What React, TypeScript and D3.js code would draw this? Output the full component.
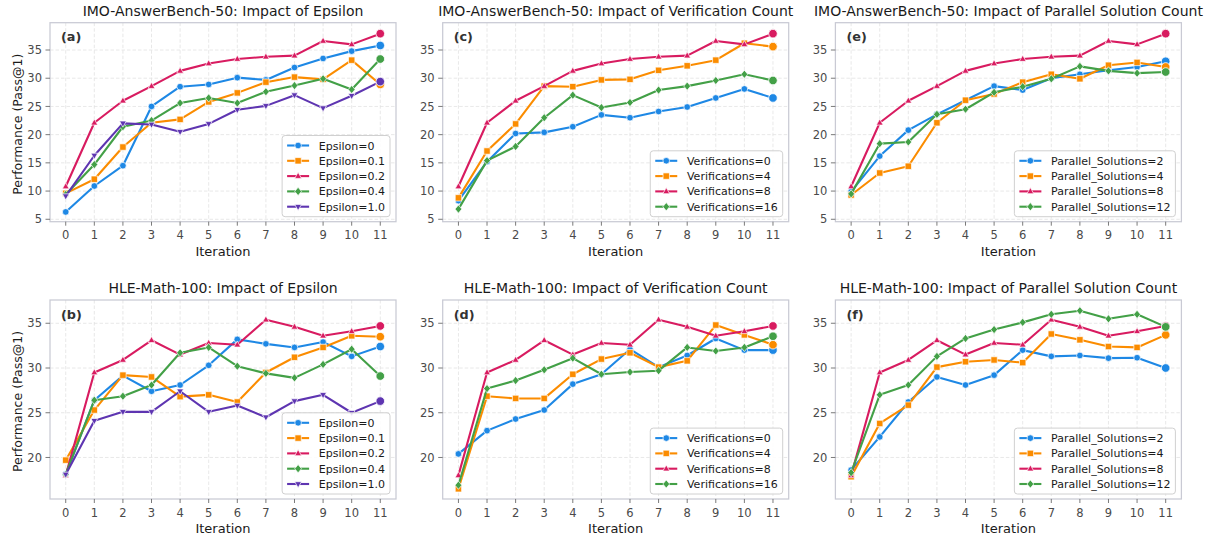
import React from "react";
import * as d3 from "d3";

// ---------- data ----------
const iterations = [0, 1, 2, 3, 4, 5, 6, 7, 8, 9, 10, 11];

const epsilonLabels = ["Epsilon=0", "Epsilon=0.1", "Epsilon=0.2", "Epsilon=0.4", "Epsilon=1.0"];
const verificationLabels = ["Verifications=0", "Verifications=4", "Verifications=8", "Verifications=16"];
const parallelLabels = ["Parallel_Solutions=2", "Parallel_Solutions=4", "Parallel_Solutions=8", "Parallel_Solutions=12"];

// IMO-AnswerBench-50
const imoEps0 = [6.3, 10.9, 14.5, 25.0, 28.5, 28.9, 30.1, 29.7, 31.9, 33.5, 34.8, 35.8];
const imoEps01 = [9.6, 12.1, 17.8, 22.1, 22.7, 25.8, 27.4, 29.3, 30.2, 29.8, 33.2, 28.9];
const imoEps02 = [10.8, 22.1, 26.0, 28.6, 31.3, 32.6, 33.4, 33.8, 34.0, 36.6, 36.0, 37.9];
const imoEps04 = [9.4, 14.7, 21.4, 22.5, 25.6, 26.5, 25.6, 27.6, 28.7, 29.9, 28.0, 33.4];
const imoEps10 = [9.1, 16.3, 22.0, 21.8, 20.5, 21.9, 24.4, 25.1, 27.0, 24.7, 26.9, 29.4];

const imoVer0 = [8.3, 15.2, 20.2, 20.4, 21.4, 23.5, 23.0, 24.1, 24.9, 26.5, 28.1, 26.5];
const imoVer4 = [8.8, 17.1, 21.9, 28.6, 28.5, 29.7, 29.8, 31.4, 32.2, 33.2, 36.2, 35.6];
const imoVer8 = [10.8, 22.1, 26.0, 28.6, 31.3, 32.6, 33.4, 33.8, 34.0, 36.6, 36.0, 37.9];
const imoVer16 = [6.8, 15.4, 17.9, 23.0, 27.0, 24.8, 25.7, 27.9, 28.6, 29.6, 30.7, 29.6];

const imoPar2 = [9.9, 16.2, 20.8, 23.6, 26.1, 28.6, 27.9, 30.0, 30.7, 31.4, 32.0, 33.0];
const imoPar4 = [9.3, 13.2, 14.4, 22.1, 26.1, 27.2, 29.3, 30.7, 29.9, 32.3, 32.8, 32.0];
const imoPar8 = [10.8, 22.1, 26.0, 28.6, 31.3, 32.6, 33.4, 33.8, 34.0, 36.6, 36.0, 37.9];
const imoPar12 = [9.5, 18.4, 18.7, 23.6, 24.5, 27.5, 28.5, 29.9, 32.1, 31.3, 30.9, 31.1];

// HLE-Math-100
const hleEps0 = [18.15, 26.4, 29.15, 27.4, 28.1, 30.3, 33.2, 32.7, 32.3, 32.9, 31.3, 32.4];
const hleEps01 = [19.7, 25.3, 29.2, 29.0, 26.8, 27.0, 26.2, 29.5, 31.2, 32.3, 33.6, 33.5];
const hleEps02 = [18.0, 29.5, 30.9, 33.1, 31.5, 32.8, 32.6, 35.4, 34.6, 33.6, 34.1, 34.7];
const hleEps04 = [18.1, 26.4, 26.85, 28.1, 31.7, 32.3, 30.2, 29.4, 28.9, 30.4, 32.1, 29.1];
const hleEps10 = [18.1, 24.1, 25.1, 25.1, 27.4, 25.1, 25.8, 24.5, 26.3, 27.0, 25.0, 26.3];

const hleVer0 = [20.4, 23.0, 24.3, 25.3, 28.2, 29.3, 32.1, 30.1, 31.4, 33.3, 32.0, 32.0];
const hleVer4 = [16.5, 26.85, 26.6, 26.6, 29.3, 31.0, 31.7, 30.1, 30.8, 34.8, 33.7, 32.6];
const hleVer8 = [18.0, 29.5, 30.9, 33.1, 31.5, 32.8, 32.6, 35.4, 34.6, 33.6, 34.1, 34.7];
const hleVer16 = [16.9, 27.7, 28.6, 29.8, 31.1, 29.3, 29.55, 29.7, 32.3, 31.9, 32.3, 33.55];

const hlePar2 = [18.6, 22.3, 26.2, 29.0, 28.1, 29.2, 32.0, 31.3, 31.4, 31.1, 31.15, 30.0];
const hlePar4 = [17.85, 23.8, 25.85, 30.1, 30.7, 30.9, 30.6, 33.8, 33.15, 32.4, 32.3, 33.7];
const hlePar8 = [18.0, 29.5, 30.9, 33.1, 31.5, 32.8, 32.6, 35.4, 34.6, 33.6, 34.1, 34.7];
const hlePar12 = [18.3, 27.0, 28.1, 31.3, 33.3, 34.3, 35.1, 36.0, 36.4, 35.5, 36.0, 34.6];

const topTicks = [5, 10, 15, 20, 25, 30, 35];
const bottomTicks = [20, 25, 30, 35];

const titles = [
  "IMO-AnswerBench-50: Impact of Epsilon",
  "IMO-AnswerBench-50: Impact of Verification Count",
  "IMO-AnswerBench-50: Impact of Parallel Solution Count",
  "HLE-Math-100: Impact of Epsilon",
  "HLE-Math-100: Impact of Verification Count",
  "HLE-Math-100: Impact of Parallel Solution Count",
];
const panelTags = ["(a)", "(c)", "(e)", "(b)", "(d)", "(f)"];

// ---------- styles ----------
const COLORS = ["#1E88E5", "#FB8C00", "#D81B60", "#43A047", "#5E35B1"];
const MARKERS = ["circle", "square", "triangle", "diamond", "triangleDown"];
const FONT = "'DejaVu Sans', Verdana, sans-serif";

const W = 1217;
const H = 538;
const colLefts = [50, 442.7, 835.4];
const rowTops = [22.7, 300];
const PW = 346;
const PH = 199;
const LEGEND_FS = 11;
const TICK_FS = 11.5;

function markerPath(type: string): string {
  switch (type) {
    case "circle":
      return "M3.3,0A3.3,3.3,0,1,1,-3.3,0A3.3,3.3,0,1,1,3.3,0Z";
    case "square":
      return "M-3.2,-3.2H3.2V3.2H-3.2Z";
    case "triangle":
      return "M0,-3.8L3.4,2.3L-3.4,2.3Z";
    case "diamond":
      return "M0,-4.1L3.4,0L0,4.1L-3.4,0Z";
    case "triangleDown":
      return "M0,3.8L3.4,-2.3L-3.4,-2.3Z";
  }
  return "";
}

let measureCtx: CanvasRenderingContext2D | null = null;
function textWidth(s: string, size: number): number {
  if (typeof document !== "undefined") {
    if (!measureCtx) {
      const c = document.createElement("canvas");
      measureCtx = c.getContext("2d");
    }
    if (measureCtx) {
      measureCtx.font = `${size}px "DejaVu Sans"`;
      return measureCtx.measureText(s).width;
    }
  }
  return s.length * size * 0.6;
}

type Panel = {
  title: string;
  tag: string;
  labels: string[];
  series: number[][];
  col: number;
  row: number;
};

const panels: Panel[] = [
  { title: titles[0], tag: panelTags[0], labels: epsilonLabels, series: [imoEps0, imoEps01, imoEps02, imoEps04, imoEps10], col: 0, row: 0 },
  { title: titles[1], tag: panelTags[1], labels: verificationLabels, series: [imoVer0, imoVer4, imoVer8, imoVer16], col: 1, row: 0 },
  { title: titles[2], tag: panelTags[2], labels: parallelLabels, series: [imoPar2, imoPar4, imoPar8, imoPar12], col: 2, row: 0 },
  { title: titles[3], tag: panelTags[3], labels: epsilonLabels, series: [hleEps0, hleEps01, hleEps02, hleEps04, hleEps10], col: 0, row: 1 },
  { title: titles[4], tag: panelTags[4], labels: verificationLabels, series: [hleVer0, hleVer4, hleVer8, hleVer16], col: 1, row: 1 },
  { title: titles[5], tag: panelTags[5], labels: parallelLabels, series: [hlePar2, hlePar4, hlePar8, hlePar12], col: 2, row: 1 },
];

const yDomains: [number, number][] = [
  [4.57, 39.84],
  [15.36, 37.6],
];
const yTickSets = [topTicks, bottomTicks];

function PanelView({ p }: { p: Panel }) {
  const x0 = colLefts[p.col];
  const y0 = rowTops[p.row];
  const x = d3.scaleLinear().domain([-0.55, 11.55]).range([x0, x0 + PW]);
  const y = d3.scaleLinear().domain(yDomains[p.row]).range([y0 + PH, y0]);
  const yTicks = yTickSets[p.row];
  const line = d3
    .line<number>()
    .x((_, i) => x(iterations[i]))
    .y((d) => y(d));

  // legend geometry
  const rowH = 15.3;
  const n = p.labels.length;
  const maxTW = Math.max(...p.labels.map((l) => textWidth(l, LEGEND_FS)));
  const lw = 36.7 + maxTW + 5;
  const lh = 20 + (n - 1) * rowH;
  const lx = x0 + PW - 6 - lw;
  const ly = y0 + PH - 5 - lh;

  return (
    <g>
      {/* grid */}
      <g stroke="#e2e2e2" strokeWidth={0.8} strokeDasharray="3.5,2">
        {iterations.map((t) => (
          <line key={"gx" + t} x1={x(t)} x2={x(t)} y1={y0} y2={y0 + PH} />
        ))}
        {yTicks.map((t) => (
          <line key={"gy" + t} x1={x0} x2={x0 + PW} y1={y(t)} y2={y(t)} />
        ))}
      </g>
      {/* frame */}
      <rect x={x0} y={y0} width={PW} height={PH} fill="none" stroke="#c9cad4" strokeWidth={1.25} />
      {/* ticks */}
      <g stroke="#6b6b6b" strokeWidth={0.9}>
        {iterations.map((t) => (
          <line key={"tx" + t} x1={x(t)} x2={x(t)} y1={y0 + PH} y2={y0 + PH + 4} />
        ))}
        {yTicks.map((t) => (
          <line key={"ty" + t} x1={x0 - 4.5} x2={x0} y1={y(t)} y2={y(t)} />
        ))}
      </g>
      <g fill="#4a4a4a" fontSize={TICK_FS} fontFamily={FONT}>
        {iterations.map((t) => (
          <text key={"lx" + t} x={x(t)} y={y0 + PH + 17.6} textAnchor="middle">
            {t}
          </text>
        ))}
        {yTicks.map((t) => (
          <text key={"ly" + t} x={x0 - 8} y={y(t) + 4.1} textAnchor="end">
            {t}
          </text>
        ))}
      </g>
      {/* labels */}
      <text x={x0 + PW / 2} y={y0 - 7} textAnchor="middle" fontSize={14} fontFamily={FONT} fill="#1a1a1a">
        {p.title}
      </text>
      <text x={x0 + PW / 2} y={y0 + PH + 33.8} textAnchor="middle" fontSize={13} fontFamily={FONT} fill="#1a1a1a">
        Iteration
      </text>
      {p.col === 0 && (
        <text
          transform={`translate(22,${y0 + PH / 2 + 2}) rotate(-90)`}
          textAnchor="middle"
          fontSize={12.5}
          fontFamily={FONT}
          fill="#1a1a1a"
        >
          Performance (Pass@1)
        </text>
      )}
      <text x={x0 + 11} y={y0 + 18.7} fontSize={12.8} fontWeight="bold" fontFamily={FONT} fill="#333">
        {p.tag}
      </text>
      {/* series */}
      {p.series.map((s, si) => (
        <g key={"s" + si}>
          <path d={line(s) || ""} fill="none" stroke={COLORS[si]} strokeWidth={2.1} strokeLinejoin="round" />
          {s.map((v, i) => (
            <path
              key={i}
              d={markerPath(MARKERS[si])}
              transform={`translate(${x(iterations[i])},${y(v)})`}
              fill={COLORS[si]}
              stroke="#fff"
              strokeWidth={0.7}
            />
          ))}
        </g>
      ))}
      {p.series.map((s, si) => (
        <circle
          key={"last" + si}
          cx={x(iterations[iterations.length - 1])}
          cy={y(s[s.length - 1])}
          r={4.3}
          fill={COLORS[si]}
          stroke="#fff"
          strokeWidth={0.8}
        />
      ))}
      {/* legend */}
      <rect x={lx} y={ly} width={lw} height={lh} rx={3} fill="#fff" fillOpacity={0.85} stroke="#d0d0d0" strokeWidth={1} />
      {p.labels.map((lab, i) => {
        const cy = ly + 10 + i * rowH;
        return (
          <g key={"lg" + i}>
            <line x1={lx + 5} x2={lx + 27} y1={cy} y2={cy} stroke={COLORS[i]} strokeWidth={2.1} />
            <path d={markerPath(MARKERS[i])} transform={`translate(${lx + 16},${cy})`} fill={COLORS[i]} stroke="#fff" strokeWidth={0.7} />
            <text x={lx + 36.7} y={cy + 4} fontSize={LEGEND_FS} fontFamily={FONT} fill="#1a1a1a">
              {lab}
            </text>
          </g>
        );
      })}
    </g>
  );
}

export default function App() {
  return (
    <svg
      width={W}
      height={H}
      viewBox={`0 0 ${W} ${H}`}
      style={{ position: "absolute", left: 0, top: 0, background: "#fff", display: "block" }}
    >
      <rect x={0} y={0} width={W} height={H} fill="#fff" />
      {panels.map((p, i) => (
        <PanelView key={i} p={p} />
      ))}
    </svg>
  );
}
